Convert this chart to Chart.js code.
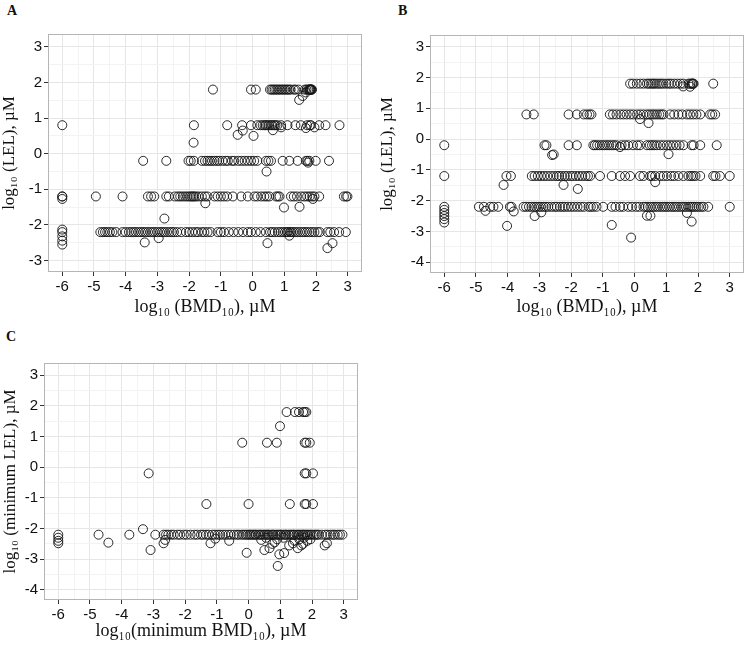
<!DOCTYPE html>
<html>
<head>
<meta charset="utf-8">
<script src="https://cdn.jsdelivr.net/npm/chart.js@4/dist/chart.umd.min.js"></script>
<style>
  body { margin: 0; background: #fff; width: 752px; height: 646px; position: relative; overflow: hidden; }
  .panel { position: absolute; }
  .tag { position: absolute; font: bold 14px "Liberation Serif", serif; line-height: 14px; color: #111; }
</style>
</head>
<body>
<div class="tag" style="left:7px;top:4px">A</div>
<div class="tag" style="left:398px;top:4px">B</div>
<div class="tag" style="left:6px;top:330px">C</div>
<div class="panel" style="left:0;top:0"><canvas id="chartA" width="376" height="320"></canvas></div>
<div class="panel" style="left:376px;top:0"><canvas id="chartB" width="376" height="320"></canvas></div>
<div class="panel" style="left:0;top:320px"><canvas id="chartC" width="376" height="326"></canvas></div>
<script>
// log10(LEL) levels the points sit on
const levels = [1.8, 0.8, -0.2, -1.2, -2.2];

// panel A: log10(BMD10) per LEL level
const aRow1 = [-1.25, -0.05, 0.1, 0.55, 0.6, 0.65, 0.7, 0.75, 0.8, 0.85, 0.9, 0.95, 1.0, 1.05, 1.1, 1.15, 1.2, 1.3, 1.35, 1.45, 1.65, 1.7, 1.75, 1.78, 1.8, 1.81, 1.82, 1.83, 1.85, 1.86, 1.87];
const aRow2 = [-6, -1.85, -0.8, -0.33, -0.05, 0.15, 0.25, 0.32, 0.38, 0.42, 0.47, 0.52, 0.58, 0.62, 0.68, 0.72, 0.78, 0.9, 1.1, 1.35, 1.52, 1.72, 1.8, 1.84, 2.1, 2.3, 2.74];
const aRow3 = [-3.45, -2.72, -2.02, -1.95, -1.85, -1.6, -1.5, -1.42, -1.35, -1.28, -1.2, -1.12, -1.05, -0.95, -0.85, -0.78, -0.65, -0.58, -0.45, -0.35, -0.25, -0.15, -0.05, 0.05, 0.15, 0.42, 0.5, 0.58, 0.95, 1.16, 1.42, 1.68, 1.73, 1.79, 1.99, 2.41];
const aRow4 = [-6, -6, -4.94, -4.1, -3.3, -3.2, -3.1, -2.72, -2.64, -2.45, -2.35, -2.28, -2.2, -2.12, -2.05, -1.98, -1.93, -1.88, -1.84, -1.78, -1.7, -1.6, -1.5, -1.42, -1.2, -1.1, -1.0, -0.9, -0.8, -0.62, -0.36, -0.15, 0.06, 0.15, 0.27, 0.37, 0.45, 0.53, 0.74, 0.8, 0.85, 1.21, 1.3, 1.4, 1.53, 1.63, 1.72, 1.8, 1.88, 1.95, 2.1, 2.88, 2.95, 2.99];
const aRow5 = [-6, -4.8, -4.72, -4.65, -4.58, -4.5, -4.42, -4.3, -4.1, -4.0, -3.9, -3.82, -3.75, -3.68, -3.6, -3.52, -3.45, -3.38, -3.3, -3.22, -3.15, -3.08, -3.0, -2.92, -2.85, -2.78, -2.7, -2.62, -2.55, -2.48, -2.38, -2.25, -2.1, -2.0, -1.9, -1.8, -1.72, -1.6, -1.52, -1.42, -1.32, -1.1, -1.0, -0.9, -0.75, -0.6, -0.45, -0.3, -0.15, -0.05, 0.1, 0.25, 0.42, 0.55, 0.62, 0.7, 0.8, 0.88, 0.95, 1.02, 1.08, 1.12, 1.18, 1.22, 1.28, 1.35, 1.42, 1.5, 1.58, 1.65, 1.72, 1.8, 1.88, 1.95, 2.05, 2.12, 2.36, 2.45, 2.57, 2.73, 2.94];
const aOffX = [1.47, 1.58, 1.68, -1.86, -0.47, -0.31, 0.03, 0.64, 0.9, 1.68, 1.95, 0.44, 1.75, -1.49, 0.99, 1.48, 1.9, -2.78, -6, -3.4, -2.96, 0.47, 1.16, 2.36, 2.52, -6, -6, -6, -6];
const aOffY = [1.51, 1.62, 1.72, 0.31, 0.53, 0.65, 0.5, 0.66, 0.74, 0.72, 0.74, -0.5, -0.25, -1.39, -1.51, -1.49, -1.27, -1.82, -1.27, -2.49, -2.37, -2.51, -2.3, -2.65, -2.51, -2.13, -2.32, -2.44, -2.55];

// panel B
const bRow1 = [-0.14, -0.05, 0.07, 0.18, 0.28, 0.39, 0.45, 0.52, 0.58, 0.63, 0.7, 0.77, 0.84, 0.91, 1.0, 1.08, 1.15, 1.25, 1.35, 1.45, 1.54, 1.7, 1.75, 1.8, 1.82, 1.84, 1.86, 2.48];
const bRow2 = [-3.41, -3.18, -2.08, -1.82, -1.6, -1.5, -1.42, -1.36, -0.78, -0.68, -0.57, -0.45, -0.35, -0.25, -0.14, -0.04, 0.08, 0.18, 0.28, 0.39, 0.47, 0.55, 0.62, 0.7, 0.78, 0.85, 0.91, 1.12, 1.25, 1.38, 1.5, 1.65, 1.75, 1.85, 1.95, 2.07, 2.38, 2.45, 2.54];
const bRow3 = [-6, -2.84, -2.78, -2.08, -1.82, -1.3, -1.25, -1.18, -1.1, -1.02, -0.95, -0.87, -0.8, -0.72, -0.65, -0.57, -0.41, -0.3, -0.2, -0.05, 0.08, 0.17, 0.39, 0.48, 0.55, 0.62, 0.7, 0.81, 0.91, 1.02, 1.12, 1.22, 1.32, 1.42, 1.54, 1.8, 1.86, 2.07, 2.59];
const bRow4 = [-6, -4.04, -3.9, -3.24, -3.15, -3.05, -2.95, -2.85, -2.75, -2.65, -2.55, -2.45, -2.38, -2.3, -2.2, -2.12, -2.02, -1.95, -1.85, -1.75, -1.65, -1.55, -1.47, -1.4, -1.09, -0.72, -0.46, -0.3, -0.14, 0.17, 0.28, 0.49, 0.55, 0.65, 0.8, 0.91, 1.02, 1.15, 1.25, 1.38, 1.54, 1.7, 1.78, 1.85, 1.92, 2.07, 2.48, 2.55, 2.69, 3.0];
const bRow5 = [-6, -4.91, -4.75, -4.55, -4.45, -4.3, -3.93, -3.88, -3.5, -3.42, -3.33, -3.25, -3.17, -3.1, -3.02, -2.95, -2.87, -2.8, -2.72, -2.62, -2.52, -2.45, -2.35, -2.27, -2.2, -2.1, -2.0, -1.9, -1.8, -1.7, -1.6, -1.45, -1.38, -1.3, -1.2, -0.99, -0.72, -0.6, -0.46, -0.36, -0.2, -0.08, 0.05, 0.15, 0.28, 0.35, 0.42, 0.5, 0.58, 0.65, 0.72, 0.8, 0.88, 0.95, 1.02, 1.1, 1.18, 1.25, 1.32, 1.4, 1.48, 1.55, 1.62, 1.7, 1.76, 1.82, 1.88, 1.95, 2.02, 2.1, 2.17, 2.32, 3.0];
const bOffX = [1.53, 1.75, 0.17, 0.44, -2.6, -2.55, -0.46, 1.07, -4.13, -2.24, -1.79, 0.65, -6, -6, -6, -6, -6, -4.7, -3.81, -4.02, -3.15, -2.94, -0.72, -0.11, 0.39, 0.5, 1.65, 1.8];
const bOffY = [1.71, 1.7, 0.65, 0.52, -0.52, -0.5, -0.26, -0.49, -1.49, -1.49, -1.62, -1.4, -2.3, -2.4, -2.5, -2.6, -2.71, -2.33, -2.35, -2.82, -2.5, -2.38, -2.79, -3.2, -2.49, -2.49, -2.4, -2.68];

// panel C: minimum BMD10 vs minimum LEL
const cRow1 = [1.2, 1.46, 1.59, 1.72, 1.77, 1.82];
const cRow2 = [-0.2, 0.58, 0.89, 1.77, 1.82, 1.93];
const cRow3 = [-3.15, 1.77, 1.82, 2.03];
const cRow4 = [-1.33, 0.0, 1.3, 1.77, 1.82, 2.03];
const cRow5 = [-6, -4.73, -3.76, -2.94, -2.68, -2.6, -2.53, -2.44, -2.36, -2.24, -2.16, -2.04, -1.95, -1.83, -1.71, -1.62, -1.5, -1.43, -1.34, -1.26, -1.14, -1.06, -0.97, -0.9, -0.81, -0.73, -0.64, -0.56, -0.46, -0.37, -0.31, -0.22, -0.16, -0.09, -0.04, 0.02, 0.06, 0.11, 0.16, 0.21, 0.24, 0.31, 0.36, 0.4, 0.46, 0.51, 0.56, 0.61, 0.64, 0.71, 0.76, 0.79, 0.86, 0.91, 0.96, 1.01, 1.04, 1.11, 1.16, 1.19, 1.26, 1.31, 1.36, 1.41, 1.44, 1.51, 1.56, 1.6, 1.66, 1.71, 1.74, 1.79, 1.84, 1.88, 1.94, 1.99, 2.06, 2.11, 2.16, 2.21, 2.31, 2.42, 2.49, 2.58, 2.66, 2.72, 2.81, 2.88, 2.96];
const cOffX = [0.99, -6, -6, -6, -3.33, -4.42, -3.09, -2.68, -2.63, -1.2, -1.05, -0.61, -0.06, 0.4, 0.5, 0.66, 0.75, 0.82, 0.97, 1.12, 0.92, 1.28, 1.4, 1.55, 1.66, 1.72, 1.85, 1.95, 2.4, 2.47, 0.55, 0.9, 1.1, 1.45, 1.6, 1.75];
const cOffY = [1.34, -2.3, -2.4, -2.48, -2.02, -2.46, -2.7, -2.48, -2.37, -2.48, -2.33, -2.4, -2.79, -2.37, -2.7, -2.64, -2.5, -2.45, -2.84, -2.8, -3.22, -2.55, -2.48, -2.64, -2.55, -2.5, -2.4, -2.35, -2.55, -2.48, -2.3, -2.35, -2.3, -2.4, -2.35, -2.3];

function buildPoints(rows, offX, offY) {
  const pts = [];
  rows.forEach((xs, i) => xs.forEach(x => pts.push({ x, y: levels[i] })));
  offX.forEach((x, i) => pts.push({ x, y: offY[i] }));
  return pts;
}

const isWhole = v => Math.abs(v - Math.round(v)) < 1e-6;

const framePlugin = {
  id: 'frame',
  afterDraw(chart) {
    const { ctx, chartArea: a } = chart;
    ctx.save();
    ctx.strokeStyle = '#b5b5b5';
    ctx.lineWidth = 1;
    ctx.strokeRect(a.left + 0.5, a.top + 0.5, a.right - a.left - 1, a.bottom - a.top - 1);
    ctx.restore();
  }
};

function axis(min, max, title, titleSize, titlePad, fit) {
  return {
    type: 'linear',
    min, max,
    border: { display: false },
    grid: {
      color: c => isWhole(c.tick.value) ? '#e6e6e6' : '#f3f3f3',
      tickColor: c => isWhole(c.tick.value) ? '#333' : 'rgba(0,0,0,0)',
      tickLength: 4,
      lineWidth: 1
    },
    ticks: {
      stepSize: 0.5,
      includeBounds: false,
      autoSkip: false,
      maxRotation: 0,
      padding: 2,
      color: '#111',
      font: { family: '"Liberation Sans", Arial, sans-serif', size: 15 },
      callback: v => isWhole(v) ? String(Math.round(v)) : ''
    },
    title: {
      display: true,
      text: title,
      color: '#111',
      padding: titlePad,
      font: { family: '"Liberation Serif", "Times New Roman", serif', size: titleSize, lineHeight: 1.1 }
    },
    afterFit: fit
  };
}

function makePanel(id, points, o) {
  new Chart(document.getElementById(id), {
    type: 'scatter',
    data: {
      datasets: [{
        data: points,
        pointRadius: 4.5,
        pointHoverRadius: 4.5,
        borderWidth: 1,
        borderColor: 'rgba(20,20,20,0.9)',
        backgroundColor: 'rgba(0,0,0,0)'
      }]
    },
    options: {
      responsive: false,
      animation: false,
      events: [],
      layout: { padding: { top: o.top, right: o.right, left: 0, bottom: 0 } },
      plugins: { legend: { display: false }, tooltip: { enabled: false } },
      scales: {
        x: axis(-6.45, 3.45, o.xTitle, 18, { top: 0, bottom: o.xPad }, s => { s.height = o.xh; }),
        y: axis(o.yMin, o.yMax, o.yTitle, 17, { top: o.yPad, bottom: 0 }, s => { s.width = o.yw; })
      }
    },
    plugins: [framePlugin]
  });
}

makePanel('chartA', buildPoints([aRow1, aRow2, aRow3, aRow4, aRow5], aOffX, aOffY), {
  top: 34, right: 14, xh: 48, yw: 48, xPad: 3, yPad: 0,
  yMin: -3.32, yMax: 3.36,
  xTitle: 'log\u2081\u2080 (BMD\u2081\u2080), \u00b5M',
  yTitle: 'log\u2081\u2080 (LEL), \u00b5M'
});

makePanel('chartB', buildPoints([bRow1, bRow2, bRow3, bRow4, bRow5], bOffX, bOffY), {
  top: 35, right: 8, xh: 47, yw: 54, xPad: 3, yPad: 2,
  yMin: -4.35, yMax: 3.38,
  xTitle: 'log\u2081\u2080 (BMD\u2081\u2080), \u00b5M',
  yTitle: 'log\u2081\u2080 (LEL), \u00b5M'
});

makePanel('chartC', buildPoints([cRow1, cRow2, cRow3, cRow4, cRow5], cOffX, cOffY), {
  top: 43, right: 18, xh: 46, yw: 44, xPad: 5, yPad: 1,
  yMin: -4.33, yMax: 3.4,
  xTitle: 'log\u2081\u2080(minimum BMD\u2081\u2080), \u00b5M',
  yTitle: 'log\u2081\u2080 (minimum LEL), \u00b5M'
});
</script>
</body>
</html>
